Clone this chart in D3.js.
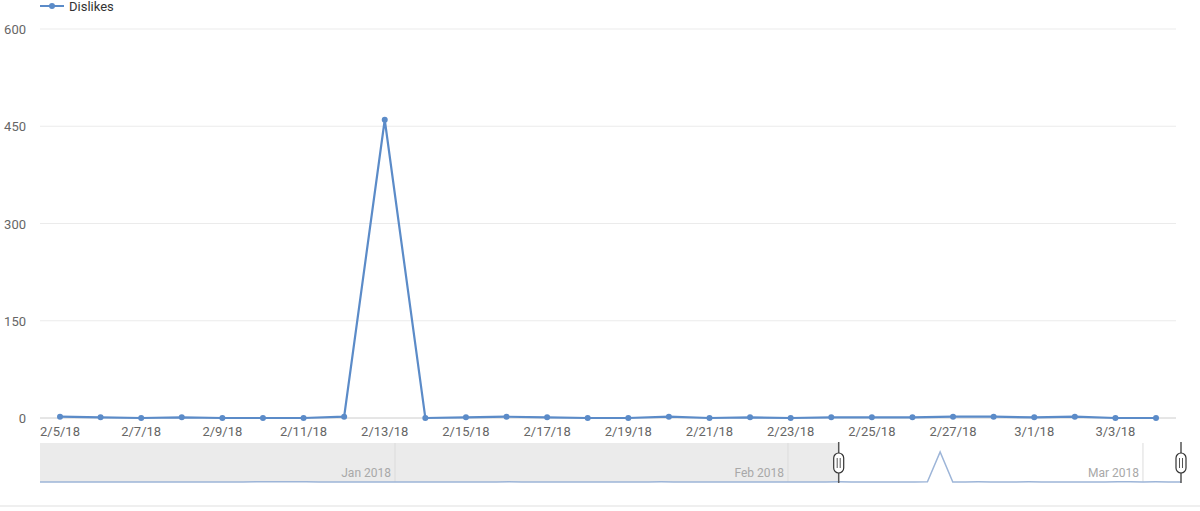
<!DOCTYPE html>
<html>
<head>
<meta charset="utf-8">
<script src="https://cdn.jsdelivr.net/npm/d3@7"></script>
<style>
  body { margin: 0; background: #fff; font-family: Roboto, "Noto Sans", sans-serif; }
  svg text { font-family: Roboto, "Noto Sans", sans-serif; }
</style>
</head>
<body>
<svg id="chart" width="1200" height="511"></svg>
<script>
// series shown in the main plot, 2/5/18 .. 3/4/18
var dates = ["2018-02-05","2018-02-06","2018-02-07","2018-02-08","2018-02-09","2018-02-10","2018-02-11",
    "2018-02-12","2018-02-13","2018-02-14","2018-02-15","2018-02-16","2018-02-17","2018-02-18",
    "2018-02-19","2018-02-20","2018-02-21","2018-02-22","2018-02-23","2018-02-24","2018-02-25",
    "2018-02-26","2018-02-27","2018-02-28","2018-03-01","2018-03-02","2018-03-03","2018-03-04"];
var dislikes = [2, 1, 0, 1, 0, 0, 0, 2, 460, 0, 1, 2, 1, 0, 0, 2, 0, 1, 0, 1, 1, 1, 2, 2, 1, 2, 0, 0];

// earlier history only visible in the navigator, 12/4/17 .. 2/4/18
var navStart = "2017-12-04";
var earlyDislikes = [1, 0, 0, 1, 0, 0, 1, 0, 0, 0, 1, 0, 0, 0, 1, 0, 0, 2, 3, 4, 3, 2, 1, 0, 0, 0, 1, 0,
    0, 1, 0, 0, 0, 1, 0, 0, 0, 2, 1, 0, 0, 0, 1, 0, 0, 0, 1, 0, 0, 2, 1, 0, 0, 0, 1, 0, 0, 0, 1,
    0, 0, 1, 0];

var yTicks = [0, 150, 300, 450, 600];
var seriesName = "Dislikes";

var parse = d3.timeParse("%Y-%m-%d");
var data = dates.map((d, i) => ({ date: parse(d), value: dislikes[i] }));
var navData = earlyDislikes.map((v, i) => ({ date: d3.timeDay.offset(parse(navStart), i), value: v }))
    .concat(data);

var lineColor = "#5b8bc8";
var svg = d3.select("#chart");

// main plot
var x = d3.scaleTime().domain(d3.extent(data, d => d.date)).range([60, 1156]);
var y = d3.scaleLinear().domain([0, 600]).range([418, 29]);

svg.append("g").selectAll("line").data(yTicks.filter(t => t > 0)).enter().append("line")
    .attr("x1", 40).attr("x2", 1176)
    .attr("y1", d => y(d)).attr("y2", d => y(d))
    .attr("stroke", "#ebebeb").attr("stroke-width", 1);

svg.append("line").attr("x1", 40).attr("x2", 1176).attr("y1", y(0)).attr("y2", y(0))
    .attr("stroke", "#cccccc").attr("stroke-width", 1);

svg.append("g").selectAll("text").data(yTicks).enter().append("text")
    .attr("x", 26).attr("y", d => y(d) + 5)
    .attr("text-anchor", "end").attr("font-size", 13).attr("fill", "#666")
    .text(d => d);

var xTicks = data.filter((d, i) => i % 2 === 0 && i < 27).map(d => d.date);
svg.append("g").selectAll("text").data(xTicks).enter().append("text")
    .attr("x", d => x(d)).attr("y", 436)
    .attr("text-anchor", "middle").attr("font-size", 13).attr("fill", "#666")
    .text(d3.timeFormat("%-m/%-d/%y"));

var line = d3.line().x(d => x(d.date)).y(d => y(d.value));
svg.append("path").datum(data).attr("d", line)
    .attr("fill", "none").attr("stroke", lineColor).attr("stroke-width", 2.2);
svg.append("g").selectAll("circle").data(data).enter().append("circle")
    .attr("cx", d => x(d.date)).attr("cy", d => y(d.value)).attr("r", 3)
    .attr("fill", lineColor);

// legend
svg.append("line").attr("x1", 40).attr("x2", 64).attr("y1", 6).attr("y2", 6)
    .attr("stroke", lineColor).attr("stroke-width", 2);
svg.append("circle").attr("cx", 52).attr("cy", 6).attr("r", 3).attr("fill", lineColor);
svg.append("text").attr("x", 69).attr("y", 11).attr("font-size", 13).attr("fill", "#333")
    .text(seriesName);

// navigator
var nx = d3.scaleTime().domain(d3.extent(navData, d => d.date)).range([40, 1181]);
var ny = d3.scaleLinear().domain([0, d3.max(navData, d => d.value)]).range([482, 452]);

svg.append("rect").attr("x", 40).attr("y", 443)
    .attr("width", nx(data[0].date) - 40).attr("height", 39)
    .attr("fill", "#ebebeb");

var months = [parse("2018-01-01"), parse("2018-02-01"), parse("2018-03-01")];
svg.append("g").selectAll("line").data(months).enter().append("line")
    .attr("x1", d => nx(d)).attr("x2", d => nx(d)).attr("y1", 443).attr("y2", 482)
    .attr("stroke", "#dcdcdc").attr("stroke-width", 1);
svg.append("g").selectAll("text").data(months).enter().append("text")
    .attr("x", d => nx(d) - 4).attr("y", 477)
    .attr("text-anchor", "end").attr("font-size", 12).attr("fill", "#a8a8a8")
    .text(d3.timeFormat("%b %Y"));

var navLine = d3.line().x(d => nx(d.date)).y(d => ny(d.value));
svg.append("path").datum(navData).attr("d", navLine)
    .attr("fill", "none").attr("stroke", "#9db5d8").attr("stroke-width", 1.5);

// range handles
var handles = [data[0].date, data[data.length - 1].date];
var hg = svg.append("g").selectAll("g").data(handles).enter().append("g")
    .attr("transform", d => "translate(" + nx(d) + ",0)");
hg.append("line").attr("x1", 0).attr("x2", 0).attr("y1", 442).attr("y2", 483)
    .attr("stroke", "#555").attr("stroke-width", 1.5);
hg.append("rect").attr("x", -5).attr("y", 453).attr("width", 10).attr("height", 20).attr("rx", 5)
    .attr("fill", "#fff").attr("stroke", "#333").attr("stroke-width", 1.2);
hg.append("line").attr("x1", -1.5).attr("x2", -1.5).attr("y1", 458).attr("y2", 468)
    .attr("stroke", "#555").attr("stroke-width", 1);
hg.append("line").attr("x1", 1.5).attr("x2", 1.5).attr("y1", 458).attr("y2", 468)
    .attr("stroke", "#555").attr("stroke-width", 1);

// bottom separator
svg.append("rect").attr("x", 0).attr("y", 505).attr("width", 1200).attr("height", 2)
    .attr("fill", "#efefef");
</script>
</body>
</html>
